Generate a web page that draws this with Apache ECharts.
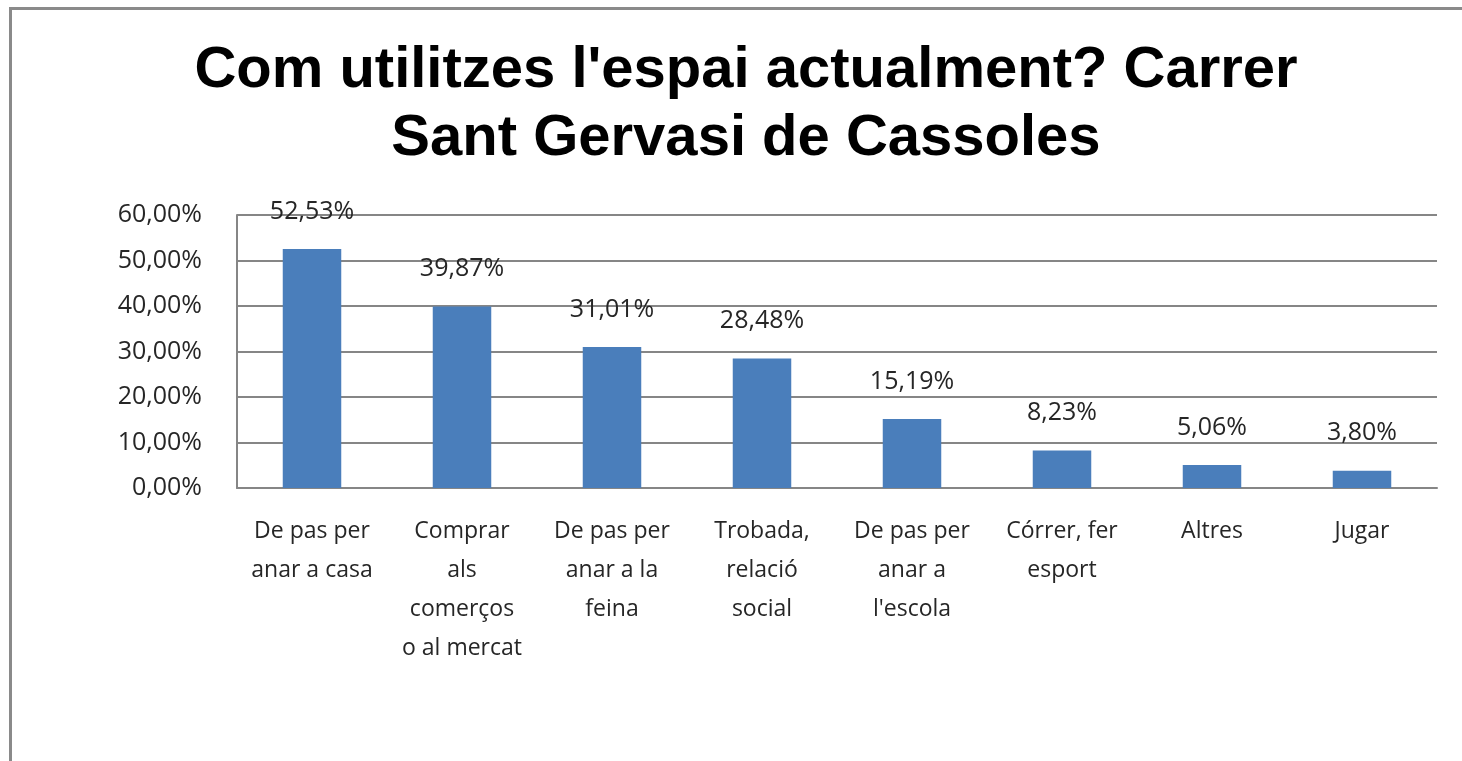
<!DOCTYPE html>
<html>
<head>
<meta charset="utf-8">
<script src="https://cdn.jsdelivr.net/npm/echarts@6/dist/echarts.min.js"></script>
<style>
html,body{margin:0;padding:0;background:#fff;}
#chart{width:1462px;height:761px;}
</style>
</head>
<body>
<div id="chart"></div>
<script>
const titleText = "Com utilitzes l'espai actualment? Carrer\nSant Gervasi de Cassoles";
const categories = [
  "De pas per\nanar a casa",
  "Comprar\nals\ncomerços\no al mercat",
  "De pas per\nanar a la\nfeina",
  "Trobada,\nrelació\nsocial",
  "De pas per\nanar a\nl'escola",
  "Córrer, fer\nesport",
  "Altres",
  "Jugar"
];
const values = [52.53, 39.87, 31.01, 28.48, 15.19, 8.23, 5.06, 3.80];
const yMin = 0, yMax = 60, yStep = 10;

const fmt = v => v.toFixed(2).replace('.', ',') + '%';
const chart = echarts.init(document.getElementById('chart'), null, {renderer: 'canvas'});
chart.setOption({
  animation: false,
  backgroundColor: '#ffffff',
  graphic: [{
    type: 'rect', silent: true, z: -10,
    shape: {x: 10.5, y: 8.5, width: 1500, height: 800},
    style: {fill: 'none', stroke: '#8a8a8a', lineWidth: 3}
  }],
  title: {
    text: titleText,
    left: 741, top: 32, textAlign: 'center',
    textStyle: {
      fontFamily: 'Liberation Sans, Arial, sans-serif',
      fontWeight: 'bold', fontSize: 58, lineHeight: 68, color: '#000'
    }
  },
  grid: {left: 237, right: 25, top: 215, bottom: 273, containLabel: false},
  xAxis: {
    type: 'category',
    data: categories,
    axisLine: {show: true, lineStyle: {color: '#868686', width: 2}},
    axisTick: {show: false},
    axisLabel: {
      interval: 0, margin: 24,
      fontFamily: 'Open Sans, sans-serif', fontSize: 23, lineHeight: 39, color: '#262626'
    }
  },
  yAxis: {
    type: 'value', min: yMin, max: yMax, interval: yStep,
    axisLine: {show: true, lineStyle: {color: '#868686', width: 2}},
    axisTick: {show: false},
    splitLine: {show: true, lineStyle: {color: '#868686', width: 2}},
    axisLabel: {
      margin: 35, formatter: v => fmt(v),
      fontFamily: 'Open Sans, sans-serif', fontSize: 25, color: '#262626'
    }
  },
  series: [{
    type: 'bar',
    data: values,
    barWidth: '39%',
    itemStyle: {color: '#4a7ebb'},
    label: {
      show: true, position: 'top', distance: 25,
      formatter: p => fmt(p.value),
      fontFamily: 'Open Sans, sans-serif', fontSize: 25, color: '#262626'
    }
  }]
});
</script>
</body>
</html>
